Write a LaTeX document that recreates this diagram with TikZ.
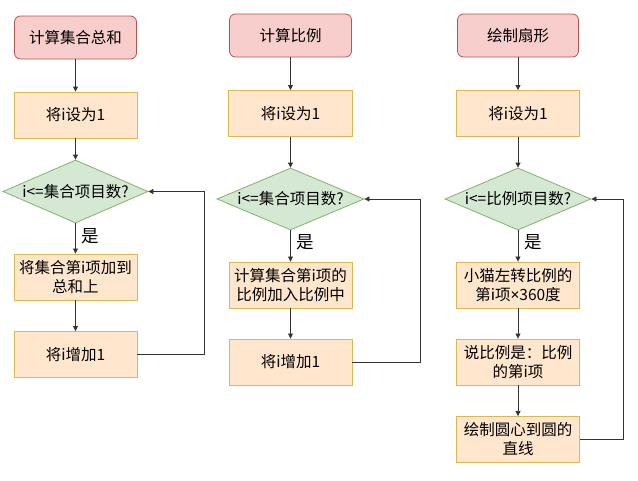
\documentclass[tikz,border=0pt]{standalone}
\usepackage{fontspec}
\setmainfont{Noto Sans CJK SC}
\newfontfamily\latinfont{Noto Sans}
\usetikzlibrary{shapes.geometric,arrows.meta}
\definecolor{startfill}{HTML}{F8CECC}
\definecolor{startdraw}{HTML}{B85450}
\definecolor{boxfill}{HTML}{FFE6CC}
\definecolor{boxdraw}{HTML}{E0B64E}
\definecolor{decfill}{HTML}{D5E8D4}
\definecolor{decdraw}{HTML}{82B366}
\definecolor{linecol}{HTML}{333333}
\tikzset{
  startbox/.style={draw=startdraw, fill=startfill, rounded corners=6pt, line width=0.8pt, minimum width=122pt, minimum height=43pt, inner sep=0pt, align=center, font=\fontsize{15.5}{19}\selectfont},
  procbox/.style={draw=boxdraw, fill=boxfill, line width=0.9pt, minimum width=123pt, minimum height=46pt, inner sep=0pt, align=center, font=\fontsize{15.5}{19}\selectfont},
  decbox/.style={draw=decdraw, fill=decfill, diamond, aspect=2.35, line width=0.8pt, minimum width=146pt, minimum height=62pt, inner sep=0pt, align=center, font=\fontsize{15.5}{19}\selectfont},
  flow/.style={draw=linecol, line width=0.8pt, -{Triangle[length=5pt,width=5pt]}},
  yeslbl/.style={font=\fontsize{17.5}{20}\selectfont, inner sep=0pt},
}
\begin{document}
\begin{tikzpicture}[x=1pt,y=-1pt]
\useasboundingbox (0,0) rectangle (638,480);
% column 1
\node[startbox] (s1) at (75.5,37.5) {计算集合总和};
\node[procbox] (a1) at (75.5,115) {将i设为1};
\node[decbox, minimum width=145pt, minimum height=63pt] (d1) at (75.5,191.5) {i<=集合项目数?};
\node[procbox] (b1) at (75.5,277) {将集合第i项加到\\总和上};
\node[procbox] (c1) at (75.5,354.5) {将i增加1};
\draw[flow] (s1) -- (a1);
\draw[flow] (a1) -- (d1);
\draw[flow] (d1) -- node[yeslbl, right=6pt, pos=0.42] {是} (b1);
\draw[flow] (b1) -- (c1);
\coordinate (l1) at (204,354.5);
\draw[flow] (c1.east) -- (l1) |- (d1.east);
% column 2
\node[startbox] (s2) at (290.5,35.5) {计算比例};
\node[procbox, minimum width=124pt] (a2) at (290.5,113.5) {将i设为1};
\node[decbox, minimum width=147pt] (d2) at (290.5,199) {i<=集合项目数?};
\node[procbox] (b2) at (290.5,285) {计算集合第i项的\\比例加入比例中};
\node[procbox] (c2) at (290.5,362) {将i增加1};
\draw[flow] (s2) -- (a2);
\draw[flow] (a2) -- (d2);
\draw[flow] (d2) -- node[yeslbl, right=6pt, pos=0.38] {是} (b2);
\draw[flow] (b2) -- (c2);
\coordinate (l2) at (420,362);
\draw[flow] (c2.east) -- (l2) |- (d2.east);
% column 3
\node[startbox, minimum width=121pt] (s3) at (518,35.5) {绘制扇形};
\node[procbox] (a3) at (518,113.5) {将i设为1};
\node[decbox] (d3) at (518,199) {i<=比例项目数?};
\node[procbox] (b3) at (518,285) {小猫左转比例的\\第i项{\latinfont ×}360度};
\node[procbox] (c3) at (518,362) {说比例是：比例\\的第i项};
\node[procbox] (e3) at (518,439.5) {绘制圆心到圆的\\直线};
\draw[flow] (s3) -- (a3);
\draw[flow] (a3) -- (d3);
\draw[flow] (d3) -- node[yeslbl, right=6pt, pos=0.38] {是} (b3);
\draw[flow] (b3) -- (c3);
\draw[flow] (c3) -- (e3);
\coordinate (l3) at (623,439.5);
\draw[flow] (e3.east) -- (l3) |- (d3.east);
\end{tikzpicture}
\end{document}
